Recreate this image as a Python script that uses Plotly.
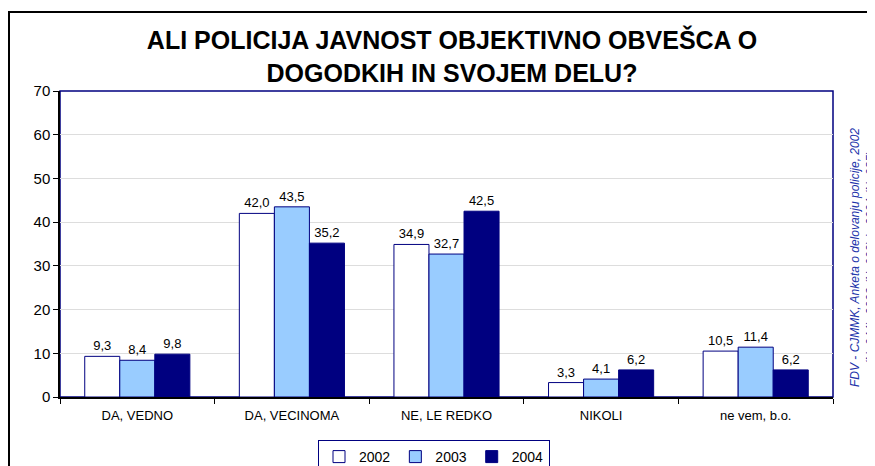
import plotly.graph_objects as go

categories = ["DA, VEDNO", "DA, VECINOMA", "NE, LE REDKO", "NIKOLI", "ne vem, b.o."]
v2002 = [9.3, 42.0, 34.9, 3.3, 10.5]
v2003 = [8.4, 43.5, 32.7, 4.1, 11.4]
v2004 = [9.8, 35.2, 42.5, 6.2, 6.2]
years = ["2002", "2003", "2004"]
fills = ["#FFFFFF", "#99CCFF", "#000080"]

W, H = 875, 466
OFF = 8  # page body margin shifts the figure by 8px
L, R, T, B = 60 - OFF, 833 - OFF, 91 - OFF, 397 - OFF

def fmt(v):
    return f"{v:.1f}".replace(".", ",")

fig = go.Figure()
for name, vals, col in zip(years, [v2002, v2003, v2004], fills):
    fig.add_trace(go.Bar(
        x=categories, y=vals, name=name,
        marker=dict(color=col, line=dict(color="#000080", width=1)),
        text=[fmt(v) for v in vals], textposition="outside",
        textfont=dict(family="Arial, Liberation Sans", size=13, color="#000000"),
        cliponaxis=False,
    ))

pw, ph = R - L, B - T
def px_x(p): return (p - OFF - L) / pw
def px_y(p): return (B - (p - OFF)) / ph

fig.update_layout(
    width=W, height=H,
    margin=dict(l=L, r=W - R, t=T, b=H - B, autoexpand=False),
    paper_bgcolor="#FFFFFF", plot_bgcolor="#FFFFFF",
    barmode="group", bargap=0.32, bargroupgap=0,
    font=dict(family="Arial, Liberation Sans", color="#000000"),
    title=dict(
        text="<b>ALI POLICIJA JAVNOST OBJEKTIVNO OBVEŠCA O<br>DOGODKIH IN SVOJEM DELU?</b>",
        x=(452 - OFF) / W, xanchor="center", y=1 - (49 - OFF) / H, yanchor="middle",
        font=dict(family="Arial, Liberation Sans", size=25, color="#000000"),
    ),
    showlegend=True,
    legend=dict(
        orientation="h", x=px_x(434), xanchor="center", y=px_y(440), yanchor="top",
        bordercolor="#000080", borderwidth=1, bgcolor="#FFFFFF",
        font=dict(size=14, family="Arial, Liberation Sans"),
        itemwidth=30, tracegroupgap=0,
    ),
    xaxis=dict(
        automargin=False,
        showline=True, linecolor="#000000", linewidth=1.5,
        ticks="outside", tickson="boundaries", ticklen=5, tickcolor="#000000",
        tickfont=dict(size=13), showgrid=False, ticklabelstandoff=6,
    ),
    yaxis=dict(
        automargin=False,
        range=[0, 70], dtick=10, showline=True, linecolor="#000000", linewidth=1.5,
        ticks="outside", ticklen=5, tickcolor="#000000",
        tickfont=dict(size=15), showgrid=True, gridcolor="#DDDDDD", gridwidth=1,
        zeroline=False,
    ),
    shapes=[
        dict(type="rect", xref="paper", yref="paper", x0=0, y0=0, x1=1, y1=1,
             line=dict(color="#000080", width=1.5), layer="below"),
        dict(type="rect", xref="paper", yref="paper",
             x0=px_x(9), y0=px_y(490), x1=px_x(900), y1=px_y(12),
             line=dict(color="#000000", width=2), layer="below"),
    ],
    annotations=[
        dict(text="<i>FDV - CJMMK, Anketa o delovanju policije, 2002</i>",
             xref="paper", yref="paper", x=px_x(855), y=px_y(258),
             xanchor="center", yanchor="middle", textangle=-90, showarrow=False,
             font=dict(family="Arial, Liberation Sans", size=12, color="#2233AA")),
        dict(text="<i>(N=944), 2003 (N=992) in 2004 (N=985)</i>",
             xref="paper", yref="paper", x=px_x(871), y=px_y(258),
             xanchor="center", yanchor="middle", textangle=-90, showarrow=False,
             font=dict(family="Arial, Liberation Sans", size=12, color="#2233AA")),
    ],
)

fig.write_html("out.html")
